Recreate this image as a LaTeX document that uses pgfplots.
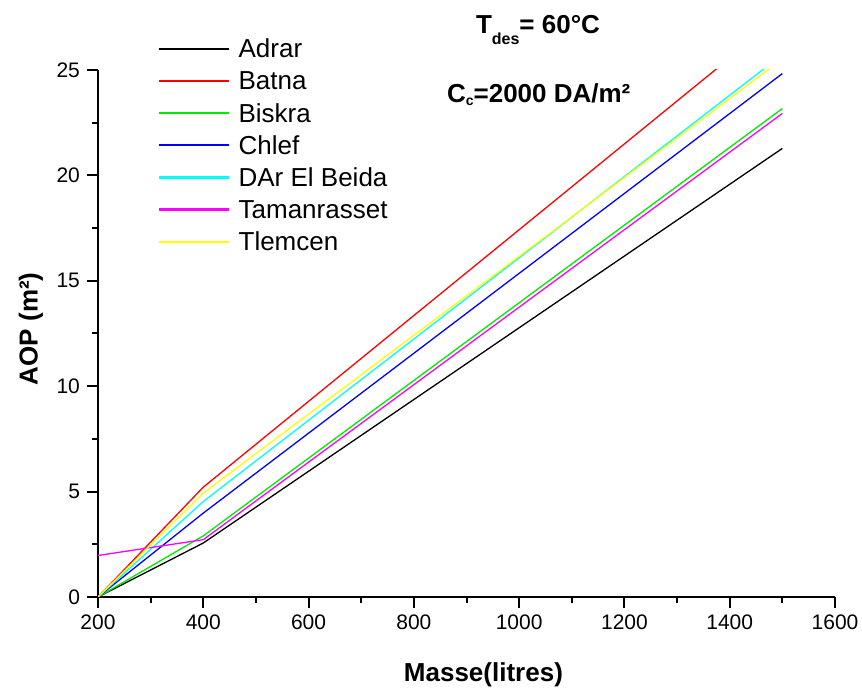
\documentclass[border=0pt]{standalone}
\usepackage{fontspec}
\setmainfont{Liberation Sans}
\usepackage{pgfplots}
\pgfplotsset{compat=1.18}
\definecolor{ored}{RGB}{255,0,0}
\definecolor{ogreen}{RGB}{0,235,0}
\definecolor{oblue}{RGB}{0,0,255}
\definecolor{ocyan}{RGB}{0,255,255}
\definecolor{omagenta}{RGB}{255,0,255}
\definecolor{oyellow}{RGB}{255,255,0}
\begin{document}
\begin{tikzpicture}
\useasboundingbox (0,0) rectangle (431pt,344pt);
\begin{axis}[
  at={(49pt,45.5pt)}, anchor=south west,
  scale only axis, width=368.5pt, height=263.5pt,
  xmin=200, xmax=1600, ymin=0, ymax=25,
  axis x line=bottom, axis y line=left,
  axis line style={-, line width=1pt, black},
  clip mode=individual,
  xtick={200,400,...,1600}, minor x tick num=1,
  ytick={0,5,...,25}, minor y tick num=1,
  tick align=outside,
  major tick length=5.5pt, minor tick length=3pt,
  every tick/.style={line width=1pt, black},
  tick label style={font=\fontsize{10.5}{12}\selectfont},
  /pgf/number format/assume math mode=true,
  /pgf/number format/1000 sep={},
  xlabel={Masse(litres)},
  ylabel={AOP (m²)},
  xlabel style={at={(axis description cs:0.523,-0.171)}, anchor=south, inner sep=0pt, font=\bfseries\fontsize{13}{15}\selectfont},
  ylabel style={at={(axis description cs:-0.074,0.509)}, anchor=south, inner sep=0pt, font=\bfseries\fontsize{13}{15}\selectfont},
  legend style={at={(rel axis cs:0.0801,1.0600)}, anchor=north west, draw=none, fill=none, inner sep=0pt,
    font=\fontsize{13}{15}\selectfont, row sep=4.08pt,
    nodes={inner sep=0pt, text height=9.5pt, text depth=2.5pt},
    /tikz/every odd column/.append style={column sep=4.5pt}},
  legend cell align=left,
  legend image code/.code={\draw[#1, line width=1.1pt] (0pt,1pt) -- (35pt,1pt);},
  every axis plot/.append style={line width=0.65pt},
]
\addplot[black] coordinates {(200,0) (400,2.56) (1500,21.28)};
\addlegendentry{Adrar}
\addplot[ored] coordinates {(200,0) (400,5.21) (1500,27.6)};
\addlegendentry{Batna}
\addplot[ogreen] coordinates {(200,0) (400,2.9) (1500,23.17)};
\addlegendentry{Biskra}
\addplot[oblue] coordinates {(200,0) (400,3.98) (1500,24.83)};
\addlegendentry{Chlef}
\addplot[ocyan] coordinates {(200,0) (400,4.53) (1500,25.73)};
\addlegendentry{DAr El Beida}
\addplot[omagenta] coordinates {(200,1.97) (400,2.72) (1500,22.94)};
\addlegendentry{Tamanrasset}
\addplot[oyellow] coordinates {(200,0) (400,4.93) (1500,25.52)};
\addlegendentry{Tlemcen}
\node[anchor=base, inner sep=0pt, font=\bfseries\fontsize{13}{15}\selectfont] at (rel axis cs:0.597,1.070) {T\raisebox{-0.45em}{\fontsize{8}{8}\selectfont des}= 60°C};
\node[anchor=base, inner sep=0pt, font=\bfseries\fontsize{13}{15}\selectfont] at (rel axis cs:0.598,0.938) {C\raisebox{-0.12em}{\fontsize{7}{7}\selectfont c}=2000 DA/m²};
\end{axis}
\end{tikzpicture}
\end{document}
